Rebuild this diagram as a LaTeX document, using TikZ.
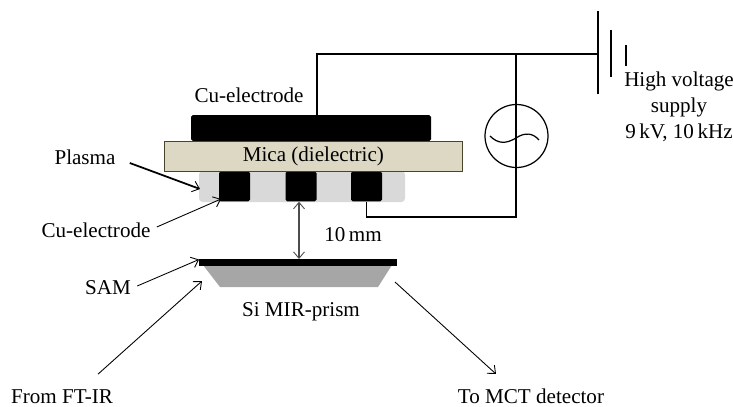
\documentclass[tikz,border=0pt]{standalone}
\usepackage{fontspec}
\setmainfont{Liberation Serif}
\usetikzlibrary{positioning, calc, arrows.meta}
\definecolor{micafill}{HTML}{DDD8C4}
\definecolor{micaline}{HTML}{4A452A}
\definecolor{plasmafill}{HTML}{D9D9D9}
\definecolor{prismfill}{HTML}{A6A6A6}
\tikzset{
	label/.style={font=\fontsize{12}{14.7}\selectfont, inner sep=0pt, align=center},
	pointer/.style={-{Straight Barb[length=1.3mm, width=2.2mm, line width=0.5pt]}, line width=0.5pt},
	wire/.style={line width=0.9pt},
	block/.style={fill=black, rounded corners=1pt, inner sep=0pt},
}
\begin{document}
\begin{tikzpicture}[x=0.02cm, y=-0.02cm]
	\useasboundingbox (0, 0) rectangle (733, 406);
	% electrodes and dielectric
	\fill[plasmafill, rounded corners=2pt] (199, 171) rectangle (405, 202);
	\fill[block] (191, 115) rectangle (431, 141);
	\node[block, minimum width=0.62cm, minimum height=0.6cm, anchor=north] (elecA) at (234.5, 171) {};
	\node[block, minimum width=0.62cm, minimum height=0.6cm, anchor=north] (elecB) at (301, 171) {};
	\node[block, minimum width=0.62cm, minimum height=0.6cm, anchor=north] (elecC) at (366.5, 171) {};
	\node[draw=micaline, fill=micafill, minimum width=5.96cm, minimum height=0.62cm, label, anchor=north west] (mica) at (164, 140.5) {Mica (dielectric)};
	\coordinate (topwire) at (317, 115);
	% circuit
	\coordinate (junction) at (516, 54);
	\coordinate (plateA) at (598, 54);
	\draw[wire] (topwire) |- (plateA);
	\draw[wire] (junction) -- (516, 217) -| (elecC.south);
	\draw[wire] (598, 11) -- (598, 94);
	\draw[wire] (611, 30) -- (611, 77);
	\draw[wire] (626, 45) -- (626, 66);
	\node[draw, circle, line width=0.7pt, minimum size=1.26cm, inner sep=0pt] (source) at (516.5, 136) {};
	\draw[line width=0.7pt] (490, 136) .. controls (498, 144) and (506, 144) .. (516, 138) .. controls (525, 132) and (533, 133) .. (539, 140);
	% prism
	\fill[prismfill] (203, 265) -- (220, 287) -- (378, 287) -- (392, 265) -- cycle;
	\fill[black] (199, 259) rectangle (397, 266);
	\coordinate (samtop) at (299, 259);
	\coordinate (samleft) at (199, 259.5);
	\draw[black!70, {Straight Barb[length=1.3mm, width=2.2mm, line width=0.5pt]}-{Straight Barb[length=1.3mm, width=2.2mm, line width=0.5pt]}, line width=0.7pt] (elecB.south -| samtop) -- (samtop);
	% labels
	\node[label] (topelec) at (249, 95) {Cu-electrode};
	\node[label] (plasma) at (85, 157) {Plasma};
	\node[label] (lowelec) at (96, 230) {Cu-electrode};
	\node[label] (gap) at (353, 235) {10\,mm};
	\node[label] (sam) at (108, 288) {SAM};
	\node[label] (prism) at (301, 312) {Si MIR-prism};
	\node[label] (ftir) at (62, 396.5) {From FT-IR};
	\node[label] (mct) at (531, 396.5) {To MCT detector};
	\node[label] (supply) at (679, 107) {High voltage\\supply\\9\,kV, 10\,kHz};
	% pointers
	\coordinate (plasmaend) at (200, 189);
	\coordinate (prismin) at (202, 281);
	\coordinate (prismout) at (395, 282);
	\coordinate (mctin) at (496, 374);
	\draw[pointer, line width=1pt] (plasma.east) ++(14, 6) -- (plasmaend);
	\draw[pointer] (lowelec.east) ++(6, -3) -- (221, 199);
	\draw[pointer] (sam.east) ++(6, -2) -- (samleft);
	\draw[pointer] (ftir.north) ++(36, -15) -- (prismin);
	\draw[pointer] (prismout) -- (mctin);
\end{tikzpicture}
\end{document}
